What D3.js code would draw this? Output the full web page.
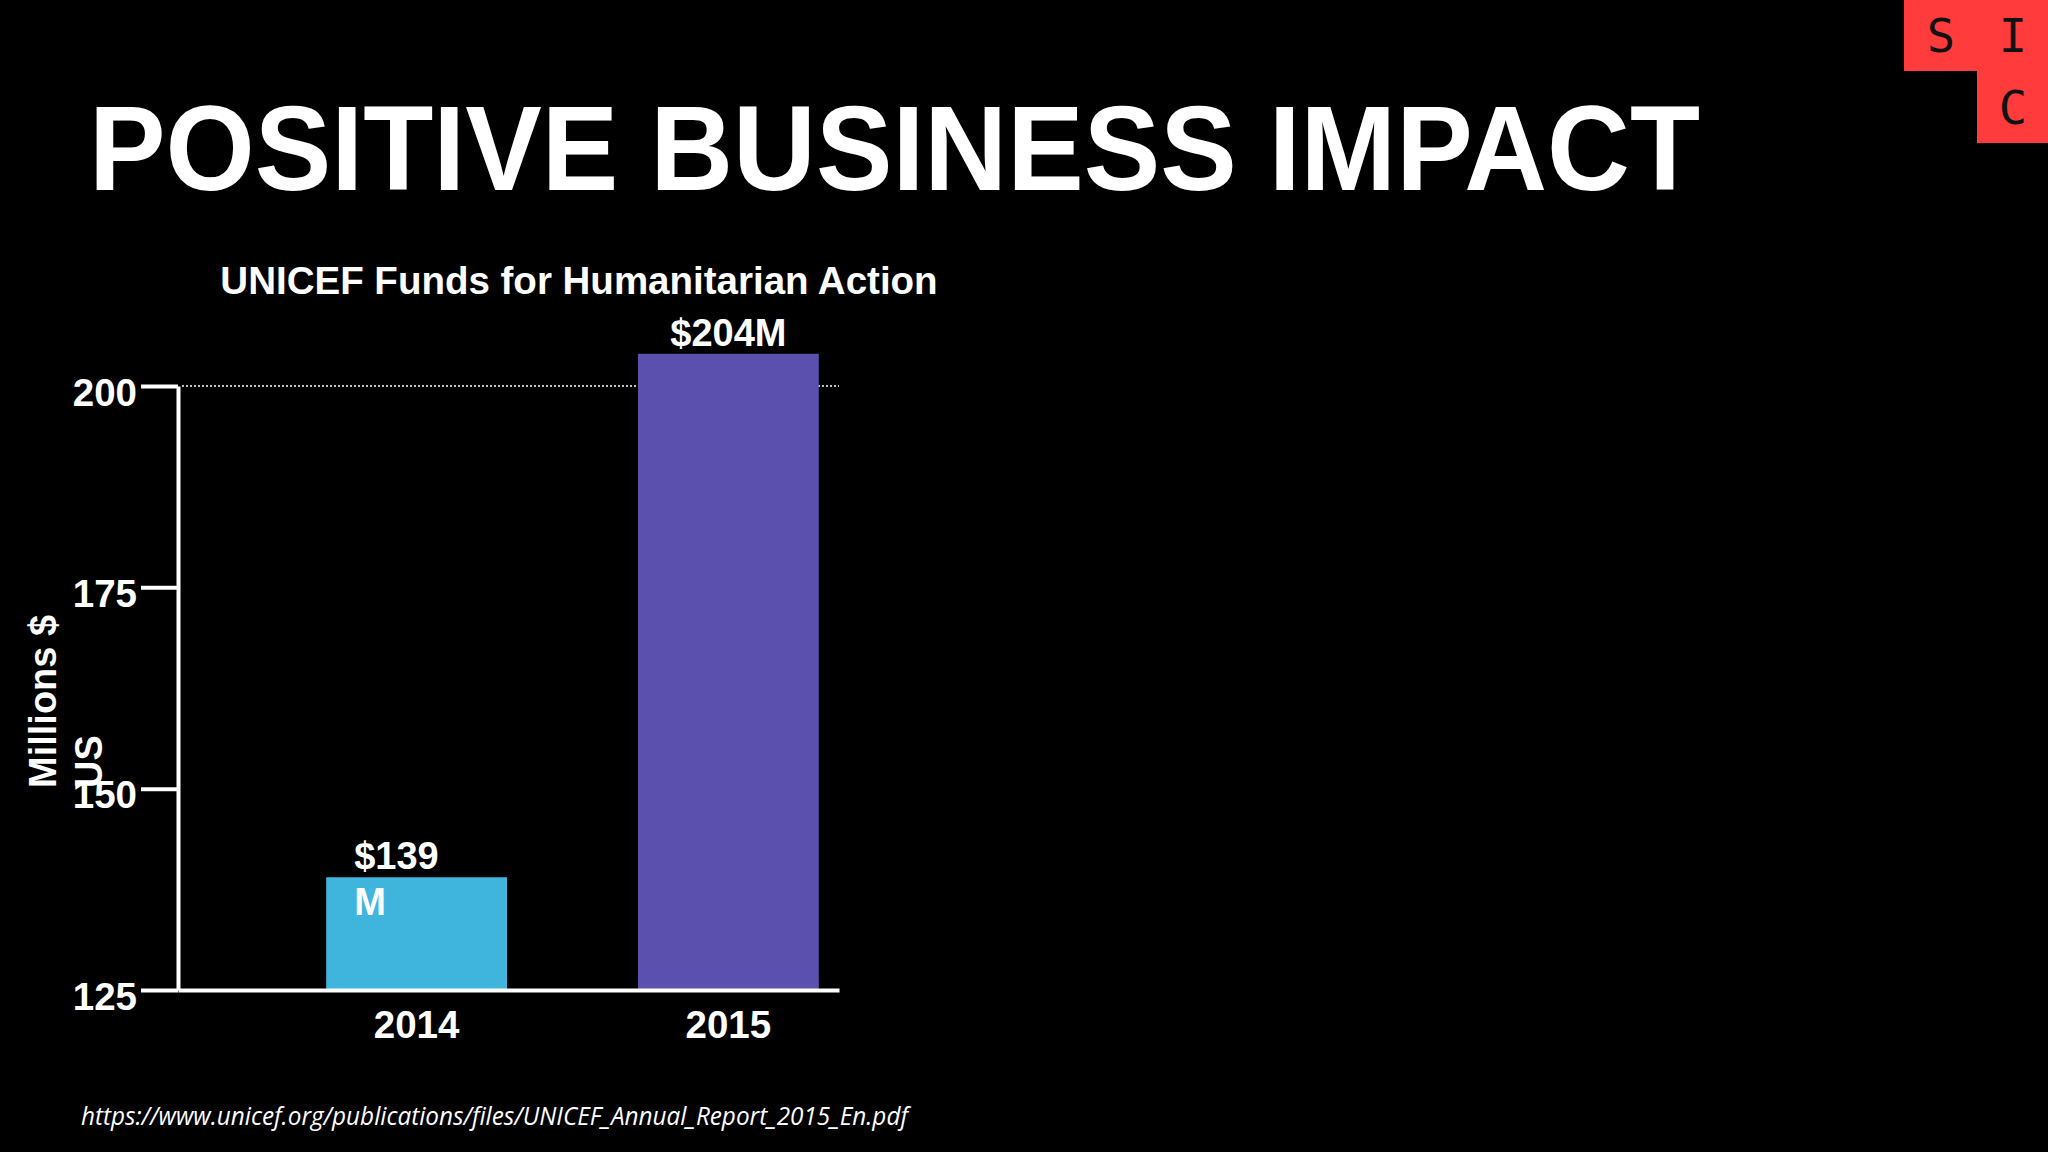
<!DOCTYPE html>
<html>
<head>
<meta charset="utf-8">
<script src="https://cdn.jsdelivr.net/npm/d3@7"></script>
<style>
  html, body { margin: 0; padding: 0; background: #000; }
  svg { display: block; }
  text { font-family: "Liberation Sans", Arial, Helvetica, sans-serif; font-weight: bold; fill: #fff; }
</style>
</head>
<body>
<script>
// ---- data ----
const categories = ["2014", "2015"];
const values = [139, 204];
const valueLabels = [["$139", "M"], ["$204M"]];
const yTicks = [125, 150, 175, 200];
const referenceValue = 200;
const slideTitle = "POSITIVE BUSINESS IMPACT";
const chartTitle = "UNICEF Funds for Humanitarian Action";
const yTitleLines = ["Millions $", "US"];
const sourceText = "https://www.unicef.org/publications/files/UNICEF_Annual_Report_2015_En.pdf";
const logoLetters = ["S", "I", "C"];

// ---- styles ----
const barColors = ["#3fb5dd", "#5b50ae"];
const logoRed = "#ff3b3b";

const W = 2048, H = 1152;
const svg = d3.select("body").append("svg").attr("width", W).attr("height", H);
svg.append("rect").attr("width", W).attr("height", H).attr("fill", "#000");

// logo
const logo = svg.append("g");
logo.append("rect").attr("x", 1904).attr("y", 0).attr("width", 144).attr("height", 71).attr("fill", logoRed);
logo.append("rect").attr("x", 1977).attr("y", 71).attr("width", 71).attr("height", 72).attr("fill", logoRed);
const logoPos = [[1941, 52], [2013, 52], [2013, 124]];
logo.selectAll("text").data(logoLetters).join("text")
  .attr("x", (d, i) => logoPos[i][0]).attr("y", (d, i) => logoPos[i][1])
  .attr("text-anchor", "middle")
  .style("font-family", "'DejaVu Sans Mono', 'Liberation Mono', monospace")
  .style("font-weight", "normal")
  .style("font-size", "47px").style("fill", "#111")
  .text(d => d);

// slide title
svg.append("text").attr("x", 89).attr("y", 190)
  .style("font-size", "120px")
  .attr("textLength", 1611).attr("lengthAdjust", "spacingAndGlyphs")
  .text(slideTitle);

// chart title
svg.append("text").attr("x", 579).attr("y", 294).attr("text-anchor", "middle")
  .style("font-size", "38.5px").text(chartTitle);

// scales
const x = d3.scaleBand().domain(categories).range([178, 839])
  .paddingInner(0.42).paddingOuter(0.27).align(0.88);
const y = d3.scaleLinear().domain([125, 200]).range([990, 386]);

// reference dotted line at 200
svg.append("line")
  .attr("x1", x.range()[0] + 4).attr("x2", x.range()[1])
  .attr("y1", y(referenceValue)).attr("y2", y(referenceValue))
  .attr("stroke", "#fff").attr("stroke-width", 1.5).attr("stroke-dasharray", "2,2");

// bars
svg.append("g").selectAll("rect").data(values).join("rect")
  .attr("x", (d, i) => x(categories[i]))
  .attr("width", x.bandwidth())
  .attr("y", d => y(d))
  .attr("height", d => y(125) - y(d))
  .attr("fill", (d, i) => barColors[i]);

// value labels
const lbl = svg.append("g").selectAll("text").data(values).join("text")
  .style("font-size", "38px")
  .attr("text-anchor", (d, i) => valueLabels[i].length > 1 ? "start" : "middle")
  .attr("x", (d, i) => valueLabels[i].length > 1 ? x(categories[i]) + 28 : x(categories[i]) + x.bandwidth() / 2)
  .attr("y", d => y(d) - 8);
lbl.each(function(d, i) {
  const t = d3.select(this);
  const x0 = t.attr("x");
  valueLabels[i].forEach((line, j) => {
    t.append("tspan").attr("x", x0).attr("dy", j === 0 ? 0 : 46).text(line);
  });
});

// y axis
const yAxis = svg.append("g").attr("transform", "translate(178,0)")
  .call(d3.axisLeft(y).tickValues(yTicks).tickSize(37).tickSizeOuter(0).tickPadding(4));
yAxis.select(".domain").attr("stroke", "#fff").attr("stroke-width", 4);
yAxis.selectAll(".tick line").attr("stroke", "#fff").attr("stroke-width", 4);
yAxis.selectAll(".tick text").attr("fill", "#fff").attr("dy", "0.5em")
  .style("font-size", "38.5px").style("font-family", "'Liberation Sans', Arial, sans-serif").style("font-weight", "bold");

// x axis
const xAxis = svg.append("g").attr("transform", "translate(0," + y(125) + ")")
  .call(d3.axisBottom(x).tickSize(0).tickSizeOuter(0).tickPadding(21));
xAxis.select(".domain").attr("stroke", "#fff").attr("stroke-width", 4);
xAxis.selectAll(".tick text").attr("fill", "#fff")
  .style("font-size", "38.5px").style("font-family", "'Liberation Sans', Arial, sans-serif").style("font-weight", "bold");

// y title (rotated, two lines)
const yt = svg.append("text")
  .attr("transform", "translate(56,788) rotate(-90)")
  .attr("text-anchor", "start")
  .style("font-size", "38px");
yTitleLines.forEach((line, j) => {
  yt.append("tspan").attr("x", 0).attr("dy", j === 0 ? 0 : 46).text(line);
});

// source
svg.append("text").attr("x", 81).attr("y", 1125)
  .style("font-family", "'Open Sans', 'Liberation Sans', sans-serif")
  .style("font-style", "italic").style("font-weight", "normal")
  .style("font-size", "25px")
  .attr("textLength", 827).attr("lengthAdjust", "spacingAndGlyphs")
  .text(sourceText);
</script>
</body>
</html>
